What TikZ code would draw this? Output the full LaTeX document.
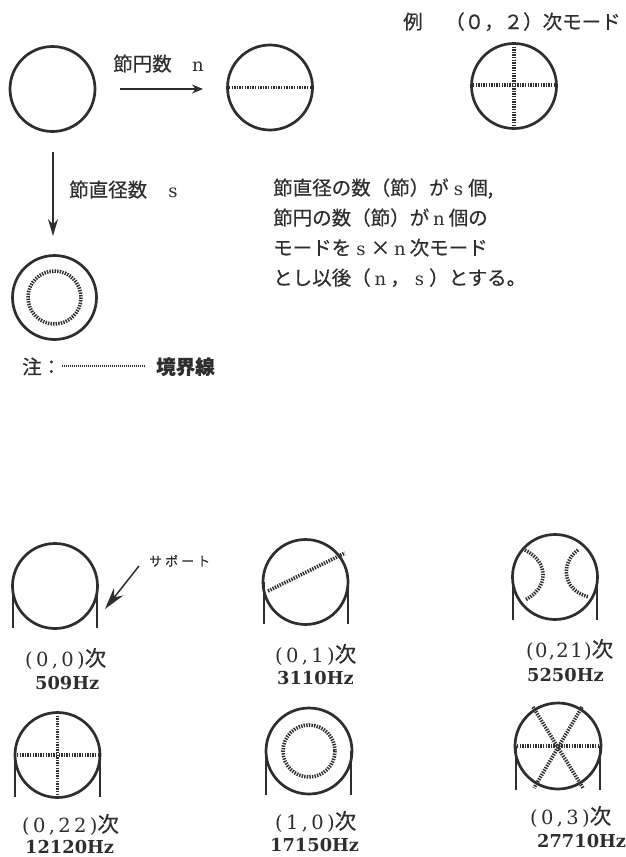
\documentclass[tikz,border=0pt]{standalone}
\usepackage{fontspec}
\usetikzlibrary{arrows.meta}
\setmainfont{DejaVu Serif}
\newfontfamily\jpf[FakeBold=0.4]{Noto Sans CJK JP}
\newfontfamily\lsf[LetterSpace=17]{DejaVu Serif}
\newfontfamily\lsn[LetterSpace=7]{DejaVu Serif}
\definecolor{ink}{HTML}{2E2E2E}
\newcommand{\wlat}[1]{\makebox[19.5pt]{\rmfamily\fontsize{18}{22}\selectfont #1}}
\newcommand{\tsugi}{\jpf\fontsize{21.5}{23}\selectfont 次}
\begin{document}
\begin{tikzpicture}[x=1pt,y=-1pt,
  ring/.style={draw=ink,line width=2.7pt},
  leg/.style={draw=ink,line width=1.9pt},
  nodal/.style={draw=ink,line width=3.6pt,dash pattern=on 1.4pt off 1.2pt},
  shaft/.style={draw=ink,line width=1.5pt},
  txt/.style={anchor=base west,inner sep=0pt,text=ink,font=\jpf\fontsize{19.5}{23}\selectfont},
  val/.style={anchor=base west,inner sep=0pt,text=ink,font=\bfseries\fontsize{17.8}{22}\selectfont},
  mode/.style={anchor=base west,inner sep=0pt,text=ink,font=\lsf\fontsize{19.5}{22}\selectfont},
  modeb/.style={anchor=base west,inner sep=0pt,text=ink,font=\lsn\fontsize{19.5}{22}\selectfont}]
\useasboundingbox[fill=white] (0,0) rectangle (626,857);

% top row circles
\coordinate (ca) at (52.5,89);
\coordinate (cb) at (270,87.5);
\coordinate (cc) at (514,86);
\coordinate (cd) at (54.5,297.5);
\draw[ring] (ca) circle (42.5);
\draw[ring] (cb) circle (42.5);
\draw[ring] (cc) circle (42.5);
\draw[ring] (cd) circle (42);
\draw[nodal] (229,87.5) -- (311,87.5);
\draw[nodal] (473,85) -- (555,85);
\draw[nodal] (514,44) -- (514,128);
\draw[nodal] (cd) circle (26.5);

% arrows
\coordinate (h1) at (120,89);
\coordinate (h2) at (203,89);
\coordinate (v1) at (53,152);
\coordinate (v2) at (53,236);
\draw[shaft,-{Stealth[length=11pt,width=9pt]}] (h1) -- (h2);
\draw[shaft,-{Stealth[length=17pt,width=10pt]}] (v1) -- (v2);

% top texts
\node[txt] (t1) at (113,71) {節円数};
\node[txt] (t1n) at (188,71) {\wlat{n}};
\node[txt] (t2) at (69,197) {節直径数};
\node[txt] (t2s) at (163,197) {\wlat{s}};
\node[txt] (t3) at (403,29) {例};
\node[txt] (t4) at (445,29) {（０，２）次モード};
\node[txt] (p1) at (273,195) {節直径の数（節）が\wlat{s}個,};
\node[txt] (p2) at (273,225) {節円の数（節）が\wlat{n}個の};
\node[txt] (p3) at (273,255) {モードを\wlat{s}×\wlat{n}次モード};
\node[txt] (p4) at (273,285) {とし以後（\wlat{n}，\wlat{s}）とする。};

% legend
\node[txt] (n1) at (22,374) {注：};
\coordinate (l1) at (62,366);
\coordinate (l2) at (145,366);
\draw[draw=ink,line width=2.4pt,dash pattern=on 1pt off 1pt] (l1) -- (l2);
\node[txt] (n2) at (156,374) {\bfseries 境界線};

% (0,0)
\coordinate (e) at (55,586);
\draw[ring] (e) circle (42.5);
\draw[leg] (13,586) -- (13,628);
\draw[leg] (97,586) -- (97,628);
\node[txt,font=\jpf\fontsize{13}{15}\selectfont] (sup) at (149,566) {サ\kern3pt ポ\kern3pt ー\kern3pt ト};
\coordinate (s1) at (139,566);
\coordinate (s2) at (105,609);
\draw[shaft,-{Stealth[length=22pt,width=12pt]}] (s1) -- (s2);
\node[mode] (e1) at (25,666) {(0,0)\tsugi};
\node[val] (e2) at (35,689) {509Hz};

% (0,1)
\coordinate (f) at (305.5,582);
\draw[ring] (f) circle (42.5);
\draw[leg] (264,582) -- (264,624);
\draw[leg] (348,582) -- (348,624);
\draw[nodal] (268,591) -- (345,553);
\node[mode] (f1) at (275,662) {(0,1)\tsugi};
\node[val] (f2) at (277,684) {3110Hz};

% (0,21)
\coordinate (g) at (555,577);
\draw[ring] (g) circle (42.5);
\draw[leg] (513,577) -- (513,620);
\draw[leg] (597,577) -- (597,620);
\draw[nodal] (525,550) .. controls (549,562) and (549,588) .. (525,600);
\draw[nodal] (578,550) .. controls (561,562) and (561,590) .. (589,597);
\node[modeb] (g1) at (526,657) {(0,21)\tsugi};
\node[val] (g2) at (527,681) {5250Hz};

% (0,22)
\coordinate (h) at (57.5,755);
\draw[ring] (h) circle (42.5);
\draw[leg] (15,755) -- (15,797);
\draw[leg] (100,755) -- (100,797);
\draw[nodal] (17,755) -- (98,755);
\draw[nodal] (57.5,713) -- (57.5,797);
\node[mode] (h1) at (22,832) {(0,22)\tsugi};
\node[val] (h2) at (25,853) {12120Hz};

% (1,0)
\coordinate (i) at (309,751);
\draw[ring] (i) circle (43);
\draw[leg] (266,751) -- (266,795);
\draw[leg] (351,751) -- (351,795);
\draw[nodal] (i) circle (26);
\node[mode] (i1) at (275,829) {(1,0)\tsugi};
\node[val] (i2) at (270,851) {17150Hz};

% (0,3)
\coordinate (j) at (558,746);
\draw[ring] (j) circle (43);
\draw[leg] (516,746) -- (516,790);
\draw[leg] (600,746) -- (600,790);
\draw[nodal] (517,746) -- (599,746);
\draw[nodal] (533,707) -- (583,788);
\draw[nodal] (582,707) -- (534,788);
\node[mode] (j1) at (530,824) {(0,3)\tsugi};
\node[val] (j2) at (537,847) {27710Hz};
\end{tikzpicture}
\end{document}
